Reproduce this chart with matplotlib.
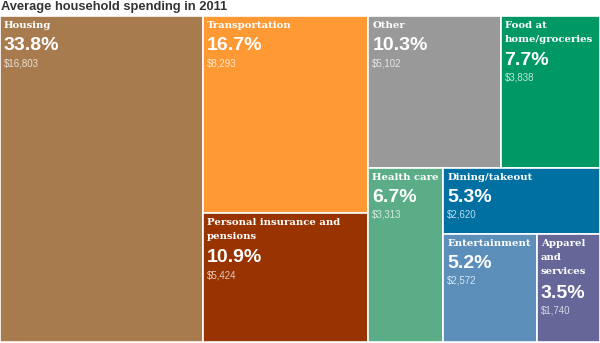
import matplotlib
matplotlib.use("Agg")
import matplotlib.pyplot as plt
from matplotlib.patches import Rectangle

title = "Average household spending in 2011"
categories = ["Housing", "Transportation", "Personal insurance and\npensions", "Other",
              "Food at\nhome/groceries", "Health care", "Dining/takeout", "Entertainment",
              "Apparel\nand\nservices"]
dollars = [16803, 8293, 5424, 5102, 3838, 3313, 2620, 2572, 1740]
percents = ["33.8%", "16.7%", "10.9%", "10.3%", "7.7%", "6.7%", "5.3%", "5.2%", "3.5%"]
dollar_labels = ["$16,803", "$8,293", "$5,424", "$5,102", "$3,838", "$3,313", "$2,620", "$2,572", "$1,740"]
colors = ["#A87B4F", "#FF9933", "#993300", "#999999", "#009966", "#5BAD87", "#0070A3", "#5B8FBA", "#666699"]

# nested slice layout: ('h' = split left-right, 'v' = split top-bottom)
structure = ('h', [0, ('v', [1, 2]), ('v', [('h', [3, 4]), ('h', [5, ('v', [6, ('h', [7, 8])])])])])

def total(node):
    if isinstance(node, int):
        return dollars[node]
    return sum(total(c) for c in node[1])

rects = {}
def layout(node, x, y, w, h):
    if isinstance(node, int):
        rects[node] = (x, y, w, h)
        return
    d, children = node
    s = total(node)
    pos = 0.0
    for c in children:
        f = total(c) / s
        if d == 'h':
            layout(c, x + pos * w, y, f * w, h)
        else:
            layout(c, x, y + pos * h, w, f * h)
        pos += f

W, H = 600, 343
top = 16
bottom = 342
fig = plt.figure(figsize=(6, 3.43), dpi=100)
ax = fig.add_axes([0, 0, 1, 1])
ax.set_xlim(0, W)
ax.set_ylim(H, 0)
ax.axis("off")

layout(structure, 0, top, W, bottom - top)

for i in range(len(categories)):
    x, y, w, h = rects[i]
    ax.add_patch(Rectangle((x, y), w, h, facecolor=colors[i], edgecolor="white", linewidth=1.2))
    nlines = categories[i].count("\n") + 1
    ax.text(x + 4, y + 5, categories[i], color="white", fontsize=7.3, fontweight="bold",
            family="DejaVu Serif", va="top", ha="left", linespacing=1.75)
    ty = y + 5 + nlines * 15 + 1
    ax.text(x + 4, ty, percents[i], color="white", fontsize=14, fontweight="bold",
            family="Liberation Sans", va="top", ha="left")
    ax.text(x + 4, ty + 21, dollar_labels[i], color="white", alpha=0.75, fontsize=7,
            family="Liberation Sans", va="top", ha="left")

ax.text(1, 1, title, fontsize=9.3, fontweight="bold", color="#333333", family="Liberation Sans",
        va="top", ha="left")

fig.savefig("out.png", dpi=100)
